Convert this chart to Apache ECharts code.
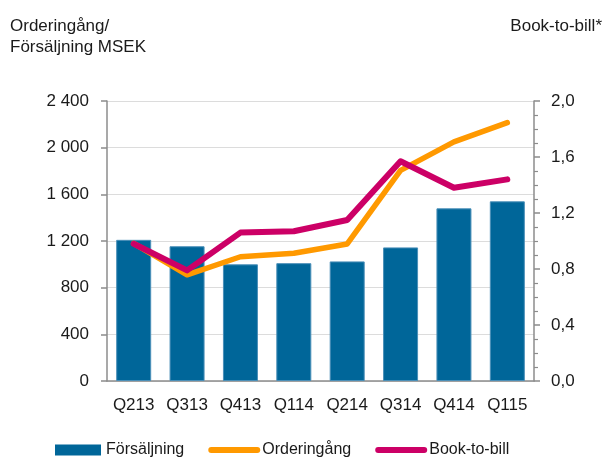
<!DOCTYPE html>
<html>
<head>
<meta charset="utf-8">
<script src="https://cdn.jsdelivr.net/npm/echarts@6/dist/echarts.min.js"></script>
<style>
  html, body { margin: 0; padding: 0; background: #fff; }
  #chart { width: 606px; height: 460px; }
</style>
</head>
<body>
<div id="chart"></div>
<script>
const categories = ['Q213', 'Q313', 'Q413', 'Q114', 'Q214', 'Q314', 'Q414', 'Q115']
const sales = [1210, 1155, 1000, 1010, 1025, 1145, 1480, 1540]
const orders = [1180, 910, 1065, 1095, 1175, 1805, 2050, 2215]
const bookToBill = [0.98, 0.79, 1.06, 1.07, 1.15, 1.57, 1.38, 1.44]

const font = "'Liberation Sans', Arial, sans-serif"
const axisGrey = '#8c8c8c'
const textColor = '#1a1a1a'

const chart = echarts.init(document.getElementById('chart'))

chart.setOption({
  backgroundColor: '#fff',
  animation: false,
  textStyle: { fontFamily: font },
  title: [
    {
      text: 'Orderingång/\nFörsäljning MSEK',
      left: 10,
      top: 16,
      padding: 0,
      textStyle: { fontFamily: font, fontSize: 17, fontWeight: 'normal', color: textColor, lineHeight: 21 },
    },
    {
      text: 'Book-to-bill*',
      right: 4,
      top: 16,
      padding: 0,
      textStyle: { fontFamily: font, fontSize: 17, fontWeight: 'normal', color: textColor, lineHeight: 21 },
    },
  ],
  grid: { left: 107, right: 72, top: 101, bottom: 79 },
  legend: {
    left: 50,
    top: 437,
    itemWidth: 46,
    itemHeight: 11,
    itemGap: 24,
    textStyle: { fontFamily: font, fontSize: 16, color: textColor },
    data: [
      { name: 'Försäljning', icon: 'rect', itemStyle: { borderWidth: 0 } },
      { name: 'Orderingång', itemStyle: { opacity: 0 }, lineStyle: { width: 6, cap: 'round' } },
      { name: 'Book-to-bill', itemStyle: { opacity: 0 }, lineStyle: { width: 6, cap: 'round' } },
    ],
  },
  xAxis: {
    type: 'category',
    data: categories,
    axisLine: { lineStyle: { color: axisGrey, width: 1.5 } },
    axisTick: { length: 5, lineStyle: { color: axisGrey, width: 1.5 } },
    axisLabel: { color: textColor, fontSize: 17, margin: 16, interval: 0 },
  },
  yAxis: [
    {
      type: 'value',
      min: 0,
      max: 2400,
      interval: 400,
      axisLine: { show: true, lineStyle: { color: axisGrey, width: 1.5 } },
      axisTick: { show: true, length: 6, lineStyle: { color: axisGrey, width: 1.5 } },
      axisLabel: {
        color: textColor,
        fontSize: 17,
        margin: 18,
        formatter: (v) => String(v).replace(/\B(?=(\d{3})+(?!\d))/g, ' '),
      },
      splitLine: { lineStyle: { color: '#dcdcdc', width: 1 } },
    },
    {
      type: 'value',
      position: 'right',
      min: 0,
      max: 2,
      interval: 0.4,
      axisLine: { show: true, lineStyle: { color: axisGrey, width: 1.5 } },
      axisTick: { show: true, length: 6, lineStyle: { color: axisGrey, width: 1.5 } },
      minorTick: { show: true, splitNumber: 4, length: 4, lineStyle: { color: axisGrey, width: 1.2 } },
      axisLabel: {
        color: textColor,
        fontSize: 17,
        margin: 17,
        formatter: (v) => v.toFixed(1).replace('.', ','),
      },
      splitLine: { show: false },
    },
  ],
  series: [
    {
      name: 'Försäljning',
      type: 'bar',
      data: sales,
      barWidth: 35,
      itemStyle: { color: '#006699', borderColor: '#4a8fb8', borderWidth: 1 },
    },
    {
      name: 'Orderingång',
      type: 'line',
      data: orders,
      symbol: 'none',
      lineStyle: { color: '#ff9900', width: 5.5, cap: 'round', join: 'round' },
      itemStyle: { color: '#ff9900' },
    },
    {
      name: 'Book-to-bill',
      type: 'line',
      yAxisIndex: 1,
      data: bookToBill,
      symbol: 'none',
      lineStyle: { color: '#cc0066', width: 6, cap: 'round', join: 'round' },
      itemStyle: { color: '#cc0066' },
    },
  ],
})
</script>
</body>
</html>
